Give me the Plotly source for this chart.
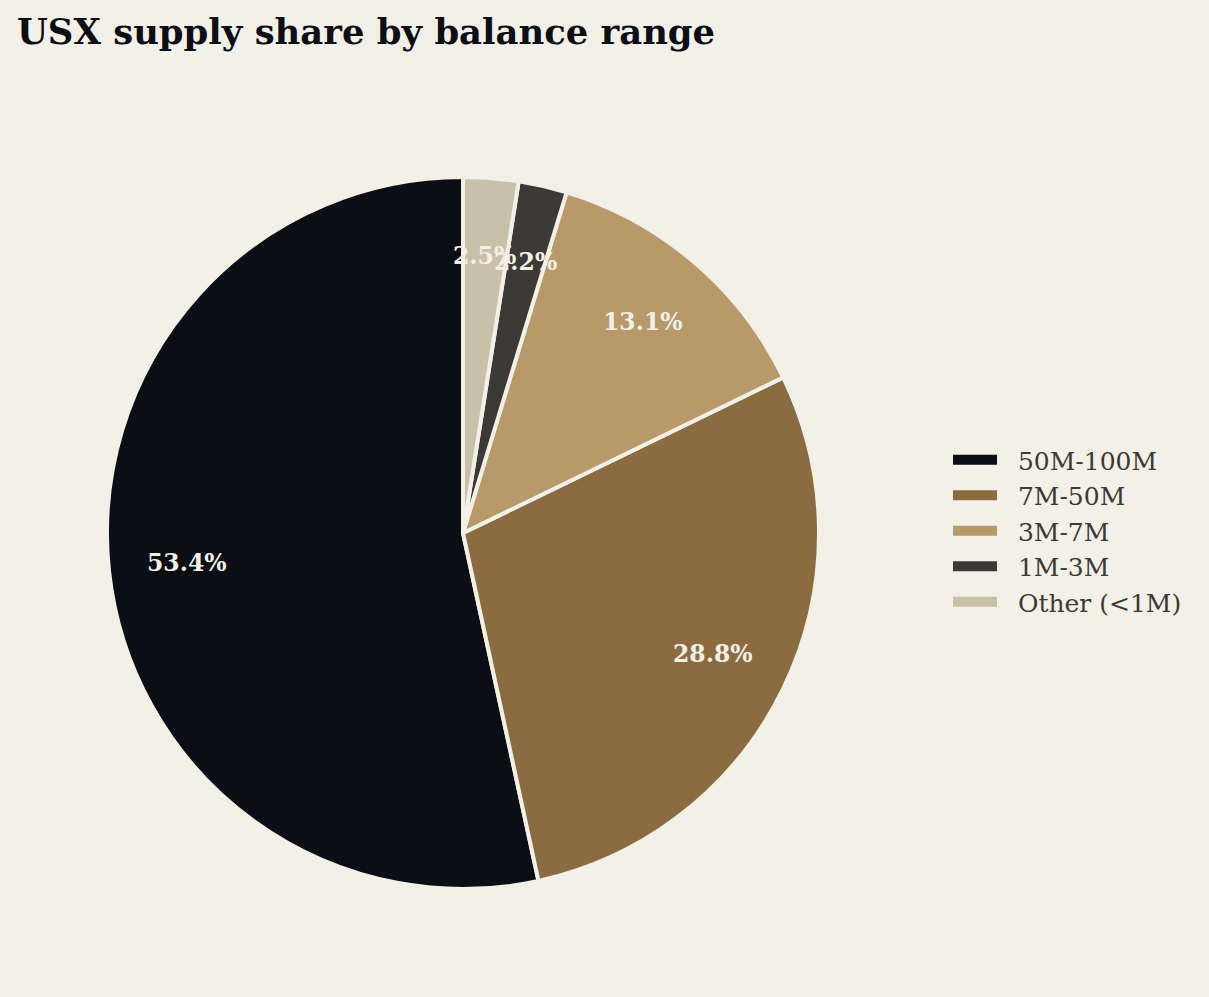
#!/usr/bin/env python3
'''USX supply share by balance range, as a pie.'''

import math

import plotly.graph_objects as go

labels = ['50M-100M', '7M-50M', '3M-7M', '1M-3M', 'Other (<1M)']
shares = [53.4, 28.8, 13.1, 2.2, 2.5]
colors = ['#0b0e14', '#8b6c40', '#b8996a', '#3c3a35', '#c9c0aa']

bg = '#f3f0e7'
W, H = 1209, 997
cx, cy, R = 463, 533, 356     # pie centre and radius in pixels
label_dist = 0.78             # where the % labels sit, as share of radius

total = sum(shares)

# plotly's counterclockwise pies end the first slice at the rotation angle,
# so turn it back so that the first slice starts at 12 o'clock
first_turn = -360 * shares[0] / total

fig = go.Figure(go.Pie(
    labels=labels,
    values=shares,
    sort=False,
    direction='counterclockwise',
    rotation=first_turn,
    marker=dict(colors=colors, line=dict(color=bg, width=4)),
    textinfo='none',
    hoverinfo='label+percent',
    showlegend=False,
    domain=dict(x=[(cx - R) / W, (cx + R) / W],
                y=[1 - (cy + R) / H, 1 - (cy - R) / H]),
))

# legend entries as wide colour bars (empty line traces)
for name, col in zip(labels, colors):
    fig.add_trace(go.Scatter(
        x=[None], y=[None], mode='lines', name='\u00a0\u00a0' + name,
        line=dict(color=col, width=12),
    ))

# percentage labels, placed at the middle angle of each slice
cum = 0
for v in shares:
    mid = math.radians(90 + 360 * (cum + v / 2) / total)
    cum += v
    fig.add_annotation(
        x=(cx + label_dist * R * math.cos(mid)) / W,
        y=1 - (cy - label_dist * R * math.sin(mid)) / H,
        xref='paper', yref='paper', xanchor='center', yanchor='middle',
        text='<b>%.1f%%</b>' % (100 * v / total),
        showarrow=False,
        font=dict(family='DejaVu Serif', size=23.5, color=bg),
    )

fig.update_layout(
    width=W, height=H,
    paper_bgcolor=bg, plot_bgcolor=bg,
    margin=dict(l=0, r=0, t=0, b=0),
    xaxis=dict(visible=False),
    yaxis=dict(visible=False),
    title=dict(
        text='<b>USX supply share by balance range</b>',
        font=dict(family='DejaVu Serif', size=35.4, color='#0b0e14'),
        x=17 / W, xref='container', xanchor='left',
        y=1 - 32 / H, yref='container', yanchor='middle',
    ),
    legend=dict(
        x=948 / W, y=1 - 531 / H, xanchor='left', yanchor='middle',
        font=dict(family='DejaVu Serif', size=25, color='#3c3a35'),
        bgcolor='rgba(0,0,0,0)',
        itemwidth=44,
    ),
    showlegend=True,
)

fig.write_html('out.html', config={'displayModeBar': False},
               post_script="document.body.style.margin = '0';")
